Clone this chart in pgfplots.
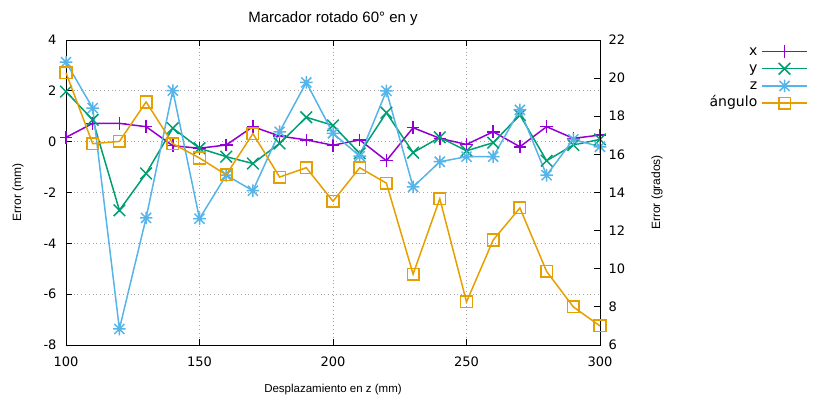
\documentclass[border=0pt]{standalone}
\usepackage{fontspec}
\setmainfont{Liberation Sans}
\newfontfamily\dejavu{DejaVu Sans}
\usepackage{pgfplots}
\pgfplotsset{compat=1.18}
\definecolor{gpviolet}{HTML}{9400D3}
\definecolor{gpgreen}{HTML}{009E73}
\definecolor{gpblue}{HTML}{56B4E9}
\definecolor{gporange}{HTML}{E69F00}

% gnuplot point type 3: + and x together
\pgfdeclareplotmark{gpstar}{%
  \pgfpathmoveto{\pgfqpoint{-\pgfplotmarksize}{0pt}}%
  \pgfpathlineto{\pgfqpoint{\pgfplotmarksize}{0pt}}%
  \pgfpathmoveto{\pgfqpoint{0pt}{-\pgfplotmarksize}}%
  \pgfpathlineto{\pgfqpoint{0pt}{\pgfplotmarksize}}%
  \pgfpathmoveto{\pgfqpoint{-.8\pgfplotmarksize}{-.8\pgfplotmarksize}}%
  \pgfpathlineto{\pgfqpoint{.8\pgfplotmarksize}{.8\pgfplotmarksize}}%
  \pgfpathmoveto{\pgfqpoint{-.8\pgfplotmarksize}{.8\pgfplotmarksize}}%
  \pgfpathlineto{\pgfqpoint{.8\pgfplotmarksize}{-.8\pgfplotmarksize}}%
  \pgfusepathqstroke}

\pgfplotsset{
  sx/.style={gpviolet, line width=1.5pt, mark=+, mark size=6.3pt},
  sy/.style={gpgreen, line width=1.5pt, mark=x, mark size=8.2pt},
  sz/.style={gpblue, line width=1.5pt, mark=gpstar, mark size=6.3pt},
  sa/.style={gporange, line width=1.5pt, mark=square, mark size=5.8pt},
  common/.style={
    scale only axis, width=534pt, height=305pt,
    at={(66pt,57pt)}, anchor=south west,
    xmin=100, xmax=300, clip=false,
    tick align=inside, major tick length=6pt,
    axis line style={black, line width=0.8pt},
    every tick/.style={black, line width=0.8pt},
    /pgf/number format/assume math mode=true,
    ticklabel style={font=\dejavu\fontsize{13}{15}\selectfont},
    label style={font=\fontsize{12}{14}\selectfont},
  },
}

\begin{document}
\begin{tikzpicture}
\useasboundingbox (0,0) rectangle (813pt,402pt);
\begin{axis}[common,
  ymin=-8, ymax=4, ytick={-8,-6,...,4},
  xtick={100,150,...,300}, xtick pos=both, ytick pos=left,
  xmajorgrids, ymajorgrids,
  grid style={gray!70, line width=0.7pt, dash pattern=on 0.8pt off 3pt},
  xticklabel style={anchor=base, yshift=-21.5pt},
  yticklabel style={xshift=-6pt},
  title={Marcador rotado 60° en y},
  title style={at={(axis description cs:0.5,1.052)}, anchor=center, font=\fontsize{15}{17}\selectfont},
  xlabel={Desplazamiento en z (mm)},
  xlabel style={at={(axis description cs:0.5,-0.147)}, anchor=center, font=\fontsize{11.5}{13}\selectfont},
  ylabel={Error (mm)},
  ylabel style={at={(axis description cs:-0.09,0.5)}, anchor=center, rotate=0},
]
\addplot[sx] coordinates {
(100,0.17) (110,0.72) (120,0.72) (130,0.59) (140,-0.16) (150,-0.26) (160,-0.13)
(170,0.59) (180,0.22) (190,0.07) (200,-0.14) (210,0.07) (220,-0.75) (230,0.55)
(240,0.13) (250,-0.11) (260,0.39) (270,-0.20) (280,0.59) (290,0.13) (300,0.26)
};
\addplot[sy] coordinates {
(100,1.97) (110,0.86) (120,-2.70) (130,-1.25) (140,0.53) (150,-0.26) (160,-0.59)
(170,-0.86) (180,-0.07) (190,0.96) (200,0.64) (210,-0.46) (220,1.14) (230,-0.43)
(240,0.17) (250,-0.36) (260,-0.04) (270,1.05) (280,-0.75) (290,-0.13) (300,0.09)
};
\addplot[sz] coordinates {
(100,3.13) (110,1.32) (120,-7.37) (130,-3.00) (140,2.01) (150,-3.03) (160,-1.32)
(170,-1.93) (180,0.39) (190,2.33) (200,0.33) (210,-0.57) (220,2.00) (230,-1.78)
(240,-0.79) (250,-0.59) (260,-0.59) (270,1.25) (280,-1.32) (290,0.09) (300,-0.20)
};
\end{axis}
\begin{axis}[common,
  ymin=6, ymax=22, ytick={6,8,...,22},
  axis x line=none, axis y line*=right, ytick pos=right,
  yticklabel style={anchor=west, xshift=5pt},
  ylabel={Error (grados)},
  ylabel style={at={(axis description cs:1.107,0.5)}, anchor=center, rotate=0},
  legend plot pos=right, legend cell align=right,
  legend style={at={(axis description cs:1.3895,0.991)}, anchor=north east,
    draw=none, fill=none, inner sep=0pt,
    font=\dejavu\fontsize{14}{16}\selectfont,
    nodes={inner xsep=4pt, inner ysep=1.6pt, text height=10.5pt, text depth=3.5pt}},
  legend image code/.code={\draw[mark repeat=2, mark phase=2, #1] plot coordinates {(0pt,0pt) (22.5pt,0pt) (45pt,0pt)};},
]
\addlegendimage{sx}
\addlegendentry{x}
\addlegendimage{sy}
\addlegendentry{y}
\addlegendimage{sz}
\addlegendentry{z}
\addplot[sa] coordinates {
(100,20.28) (110,16.56) (120,16.68) (130,18.75) (140,16.56) (150,15.81) (160,14.93)
(170,17.09) (180,14.81) (190,15.30) (200,13.54) (210,15.30) (220,14.49) (230,9.72)
(240,13.67) (250,8.26) (260,11.51) (270,13.19) (280,9.86) (290,8.00) (300,7.00)
};
\addlegendentry{ángulo}
\end{axis}
\end{tikzpicture}
\end{document}
